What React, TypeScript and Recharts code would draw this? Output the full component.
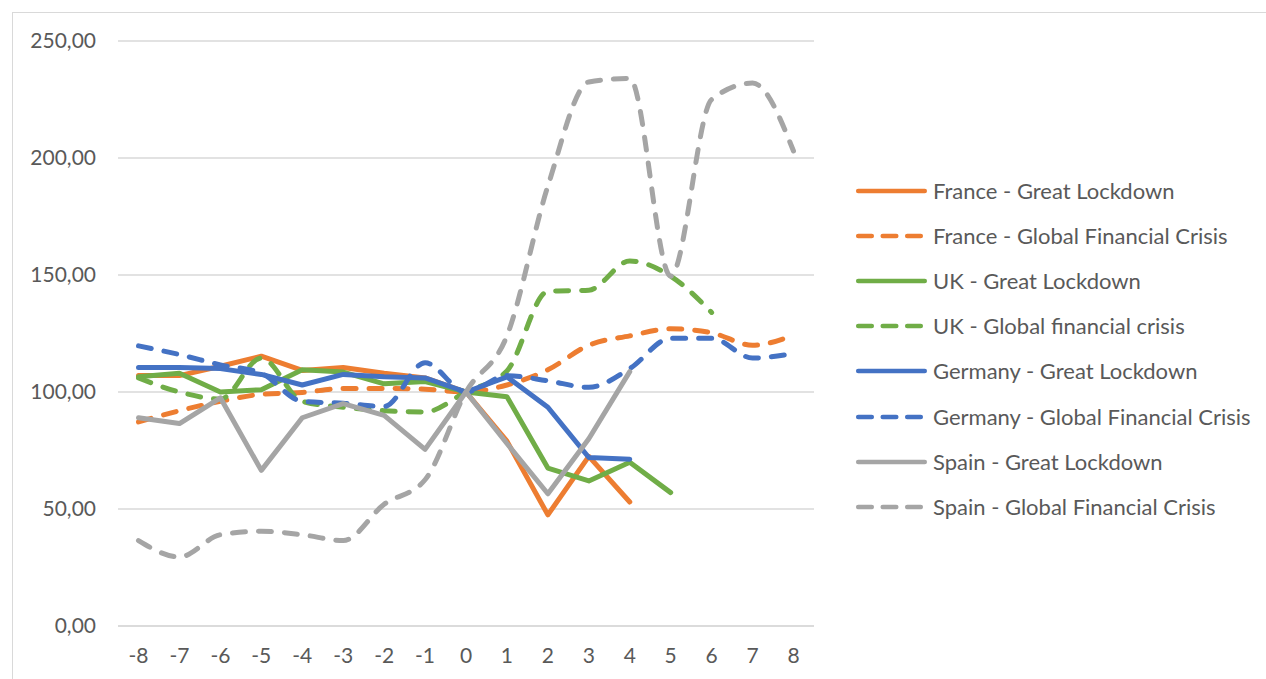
import React from 'react';
import { LineChart, Line, XAxis, YAxis, CartesianGrid, Legend } from 'recharts';

const categories = ['-8', '-7', '-6', '-5', '-4', '-3', '-2', '-1', '0', '1', '2', '3', '4', '5', '6', '7', '8'];

const franceGL = [107, 107, 111, 115.3, 109.2, 110.5, 108, 106, 100, 79, 47.5, 72.5, 53, null, null, null, null];
const franceGFC = [87.2, 92, 96, 99, 99.8, 101.5, 101.5, 101.2, 100, 103, 109.5, 120, 124, 127, 125.3, 120, 124.3];
const ukGL = [106.5, 108, 100, 101, 109.5, 108.5, 103.5, 104.5, 100, 98, 67.5, 62, 70, 57, null, null, null];
const ukGFC = [106, 100, 97, 114.5, 96, 93.5, 92, 91.5, 100, 109, 143, 143.5, 156, 149.5, 134, null, null];
const germanyGL = [110.5, 110.5, 110, 107.5, 103, 107.5, 106.5, 106, 100, 106.5, 93.5, 72, 71.3, null, null, null, null];
const germanyGFC = [119.7, 116, 111.6, 108, 96, 95.2, 93.8, 112.5, 100, 107, 104.8, 102, 110, 123, 123, 114.5, 116.5];
const spainGL = [89, 86.5, 97.5, 66.5, 89, 95, 90, 75.5, 100, 78, 56.5, 80, 108.7, null, null, null, null];
const spainGFC = [36.5, 29.5, 39, 40.5, 39, 36.5, 52, 62.5, 100, 124, 188, 232.5, 234, 149.5, 225, 232, 203];

const yTicks = [0, 50, 100, 150, 200, 250];

const seriesNames = [
  'France - Great Lockdown',
  'France - Global Financial Crisis',
  'UK - Great Lockdown',
  'UK - Global financial crisis',
  'Germany - Great Lockdown',
  'Germany - Global Financial Crisis',
  'Spain - Great Lockdown',
  'Spain - Global Financial Crisis',
];
const seriesValues = [franceGL, franceGFC, ukGL, ukGFC, germanyGL, germanyGFC, spainGL, spainGFC];
const seriesColors = ['#ED7D31', '#ED7D31', '#70AD47', '#70AD47', '#4472C4', '#4472C4', '#A5A5A5', '#A5A5A5'];
const seriesDashed = [false, true, false, true, false, true, false, true];

const data = categories.map((c, i) => {
  const row: Record<string, any> = { x: c };
  seriesValues.forEach((vals, s) => {
    row['s' + s] = vals[i];
  });
  return row;
});

const FONT = 'Lato, "Open Sans", sans-serif';
const TEXT = '#595959';
const LEGEND_DASH = '13.5 11';
const PLOT_DASH = '13 13';
const LEGEND_W = 416;

const LegendContent = () => (
  <div style={{ fontFamily: FONT, fontSize: 22, color: TEXT }}>
    {seriesNames.map((name, i) => (
      <div key={name} style={{ display: 'flex', alignItems: 'center', height: 45.14, whiteSpace: 'nowrap' }}>
        <svg width={83} height={10} style={{ display: 'block', flex: 'none' }}>
          <line
            x1={8.25}
            y1={5}
            x2={74.75}
            y2={5}
            stroke={seriesColors[i]}
            strokeWidth={4.6}
            strokeLinecap="round"
            strokeDasharray={seriesDashed[i] ? LEGEND_DASH : undefined}
          />
        </svg>
        <span style={{ lineHeight: '26px' }}>{name}</span>
      </div>
    ))}
  </div>
);

export default function App() {
  return (
    <div style={{ position: 'fixed', left: 0, top: 0, width: 1266, height: 679, overflow: 'hidden', background: '#fff' }}>
      <div
        style={{
          position: 'absolute',
          left: 12,
          top: 12,
          width: 1300,
          height: 700,
          borderLeft: '1px solid #d9d9d9',
          borderTop: '1px solid #d9d9d9',
        }}
      />
      <div style={{ position: 'absolute', left: 0, top: 0 }}>
        <LineChart width={1266} height={679} data={data} margin={{ top: 41, right: 452 - LEGEND_W, bottom: 0, left: 0 }}>
          <CartesianGrid vertical={false} stroke="#d9d9d9" strokeWidth={1.5} />
          <XAxis
            dataKey="x"
            padding={{ left: 20.5, right: 20.5 }}
            height={53}
            axisLine={{ stroke: '#d9d9d9', strokeWidth: 1.5 }}
            tickLine={false}
            tickSize={0}
            tickMargin={22}
            interval={0}
            tick={{ fill: TEXT, fontSize: 21, fontFamily: FONT }}
          />
          <YAxis
            width={118}
            domain={[0, 250]}
            ticks={yTicks}
            interval={0}
            axisLine={false}
            tickLine={false}
            tickSize={0}
            tickMargin={22}
            tickFormatter={(v: number) => v.toFixed(2).replace('.', ',')}
            tick={{ fill: TEXT, fontSize: 21, fontFamily: FONT }}
          />
          {seriesNames.map((name, i) => (
            <Line
              key={name}
              name={name}
              dataKey={'s' + i}
              type={seriesDashed[i] ? 'monotone' : 'linear'}
              stroke={seriesColors[i]}
              strokeWidth={5}
              strokeLinecap="round"
              strokeLinejoin="round"
              strokeDasharray={seriesDashed[i] ? PLOT_DASH : undefined}
              dot={false}
              activeDot={false}
              isAnimationActive={false}
            />
          ))}
          <Legend
            layout="vertical"
            verticalAlign="top"
            align="right"
            content={() => <LegendContent />}
            wrapperStyle={{ left: 850, top: 168.4, width: LEGEND_W, right: 'auto', bottom: 'auto' }}
          />
        </LineChart>
      </div>
    </div>
  );
}
